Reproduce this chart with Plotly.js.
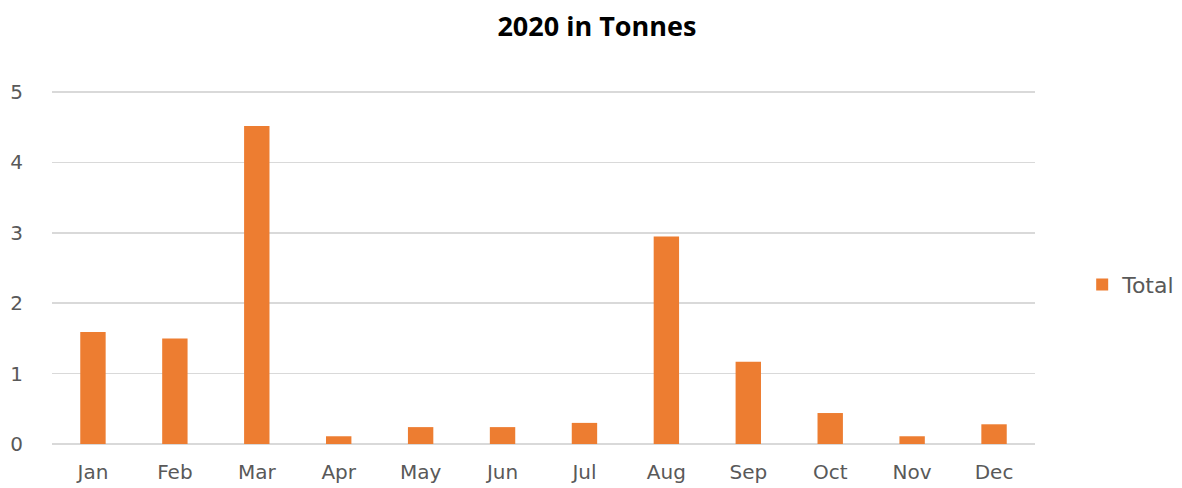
<!DOCTYPE html>
<html>
<head>
<meta charset="utf-8">
<script src="https://cdn.plot.ly/plotly-3.0.1.min.js"></script>
<style>html,body{margin:0;padding:0;background:#fff;}#chart{width:1182px;height:488px;}</style>
</head>
<body>
<div id="chart"></div>
<script>
const months = ["Jan","Feb","Mar","Apr","May","Jun","Jul","Aug","Sep","Oct","Nov","Dec"];
const totals = [1.59, 1.5, 4.52, 0.11, 0.24, 0.24, 0.3, 2.95, 1.17, 0.44, 0.11, 0.28];
const seriesName = "Total";
const chartTitle = "2020 in Tonnes";

const trace = {
  type: "bar",
  x: months,
  y: totals,
  name: seriesName,
  showlegend: true,
  marker: {color: "#ED7D31", line: {width: 0}}
};

const layout = {
  width: 1182,
  height: 488,
  margin: {l: 52, r: 147, t: 90, b: 44, autoexpand: false},
  paper_bgcolor: "#ffffff",
  plot_bgcolor: "#ffffff",
  bargap: 0.69,
  title: {
    text: "<b>" + chartTitle + "</b>",
    font: {family: "Open Sans, Liberation Sans, sans-serif", size: 27, color: "#000000"},
    x: 0.505, xanchor: "center",
    y: 0.945, yanchor: "middle"
  },
  xaxis: {
    type: "category",
    showgrid: false,
    showline: false,
    zeroline: false,
    ticks: "",
    ticklabelstandoff: 14,
    tickfont: {family: "DejaVu Sans, Verdana, sans-serif", size: 20, color: "#595959"}
  },
  yaxis: {
    range: [0, 5.03],
    dtick: 1,
    showgrid: true,
    gridcolor: "#D9D9D9",
    gridwidth: 1.5,
    zeroline: true,
    zerolinecolor: "#D9D9D9",
    zerolinewidth: 1.5,
    showline: false,
    ticks: "",
    ticklabelstandoff: 28,
    tickfont: {family: "DejaVu Sans, Verdana, sans-serif", size: 20, color: "#595959"}
  },
  legend: {
    x: 1.048, xanchor: "left",
    y: 0.45, yanchor: "middle",
    font: {family: "DejaVu Sans, Verdana, sans-serif", size: 22, color: "#595959"},
    itemwidth: 30,
    bgcolor: "rgba(0,0,0,0)"
  }
};

Plotly.newPlot("chart", [trace], layout, {displayModeBar: false, staticPlot: true});
</script>
</body>
</html>
